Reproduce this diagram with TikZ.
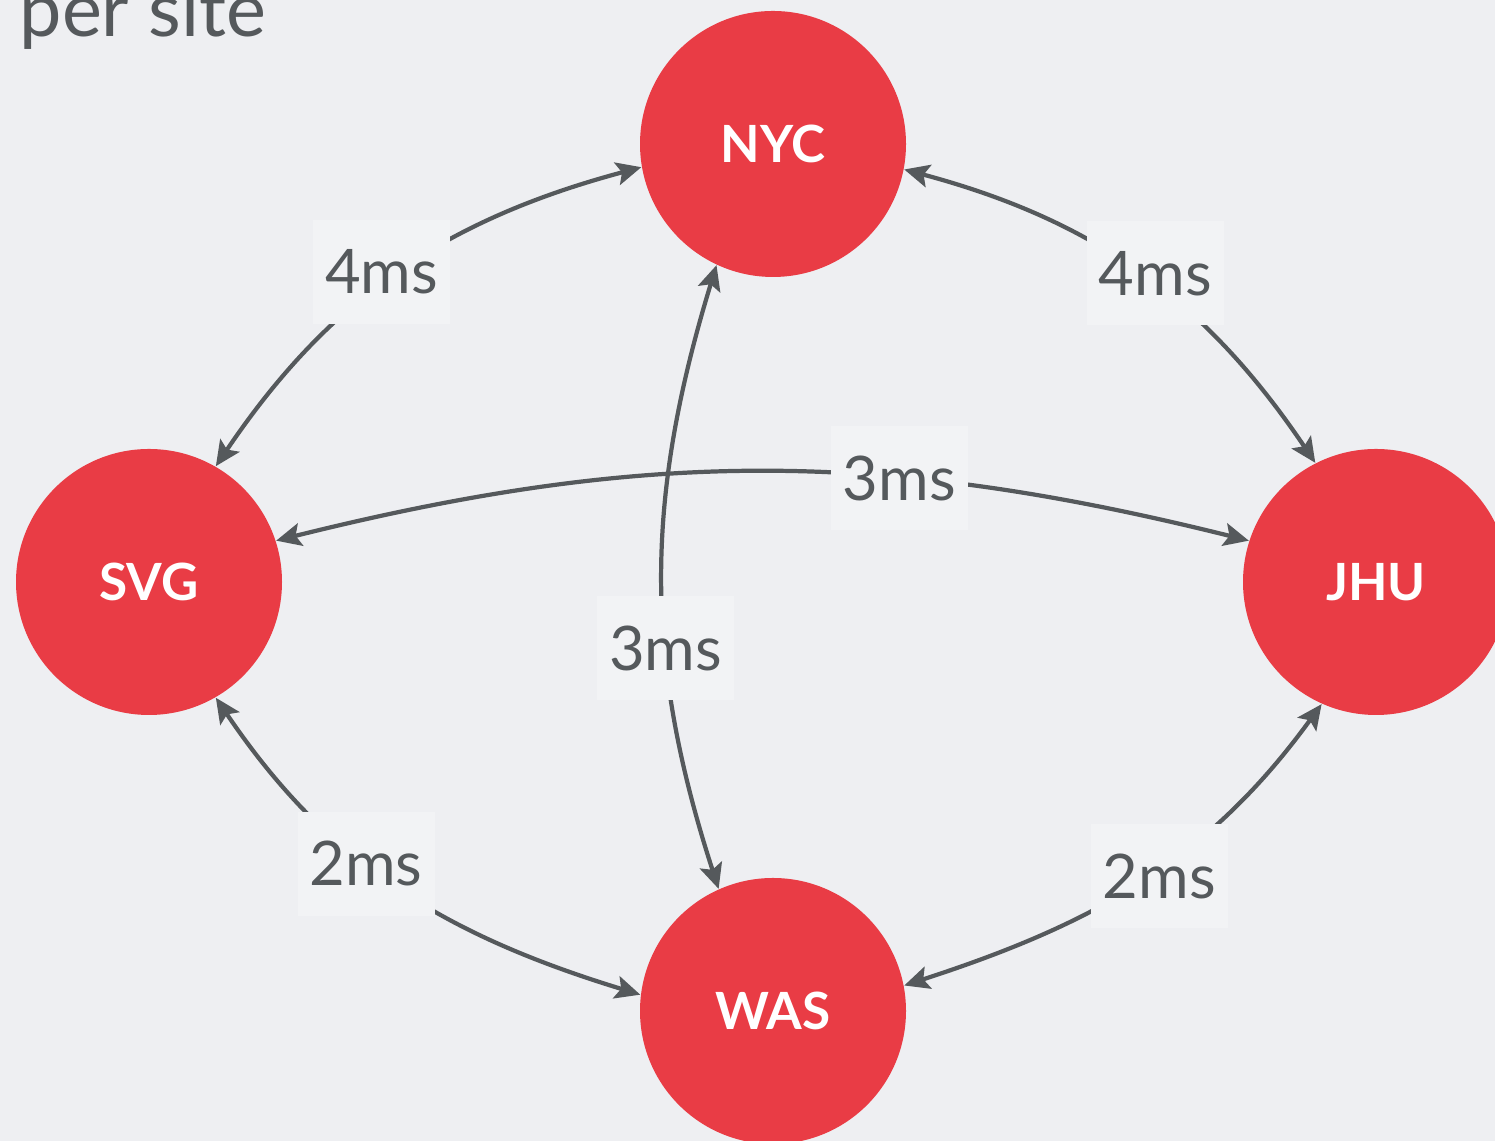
\documentclass[tikz,border=0pt]{standalone}
\usepackage{fontspec}
\setmainfont{Lato}
\usetikzlibrary{arrows.meta}

\definecolor{bgGrey}{HTML}{EEEFF2}
\definecolor{boxGrey}{HTML}{F2F3F5}
\definecolor{siteRed}{HTML}{E93C45}
\definecolor{linkGrey}{HTML}{55595C}

\begin{document}
\begin{tikzpicture}[
    % red circle for each site
    siteStyle/.style={
        circle, fill=siteRed, minimum size=2.66cm, inner sep=0pt,
        text=white, font=\bfseries\fontsize{14.6}{16}\selectfont
    },
    % two-way link between sites
    linkStyle/.style={
        line width=1.2pt, draw=linkGrey,
        {Stealth[length=2.5mm,width=2.3mm,inset=0.5mm]}-{Stealth[length=2.5mm,width=2.3mm,inset=0.5mm]}
    },
    % latency label sitting on a link
    delayStyle/.style={
        fill=boxGrey, text=linkGrey, inner sep=0pt,
        minimum width=1.37cm, minimum height=1.04cm,
        font=\fontsize{17.5}{20}\selectfont
    }
]
    % background and page size
    \fill[bgGrey] (0,0) rectangle (14.95,11.41);
    \useasboundingbox (0,0) rectangle (14.95,11.41);

    % title, cut at the top
    \node[anchor=base west, inner sep=0pt, text=linkGrey, font=\fontsize{21.5}{24}\selectfont]
        (title) at (0.19,11.04) {per site};

    % the four sites
    \node[siteStyle] (nyc) at (7.73,9.97) {NYC};
    \node[siteStyle] (svg) at (1.49,5.59) {SVG};
    \node[siteStyle] (jhu) at (13.76,5.59) {JHU};
    \node[siteStyle] (was) at (7.73,1.30) {WAS};

    % links, each with its delay
    \draw[linkStyle] (svg.60) to[out=56,in=195]
        node[delayStyle, pos=0.46, yshift=0.13cm] (dSvgNyc) {4ms} (nyc.190);
    \draw[linkStyle] (nyc.349) to[out=-15,in=124]
        node[delayStyle, pos=0.54, yshift=0.12cm] (dNycJhu) {4ms} (jhu.117);
    \draw[linkStyle] (svg.18) to[out=14,in=166]
        node[delayStyle, pos=0.65] (dSvgJhu) {3ms} (jhu.162);
    \draw[linkStyle] (nyc.245) to[out=253,in=108]
        node[delayStyle, pos=0.62] (dNycWas) {3ms} (was.114);
    \draw[linkStyle] (svg.300) to[out=-56,in=163]
        node[delayStyle, pos=0.42] (dSvgWas) {2ms} (was.173);
    \draw[linkStyle] (jhu.246) to[out=234,in=18]
        node[delayStyle, pos=0.45, yshift=-0.08cm] (dJhuWas) {2ms} (was.11);
\end{tikzpicture}
\end{document}
